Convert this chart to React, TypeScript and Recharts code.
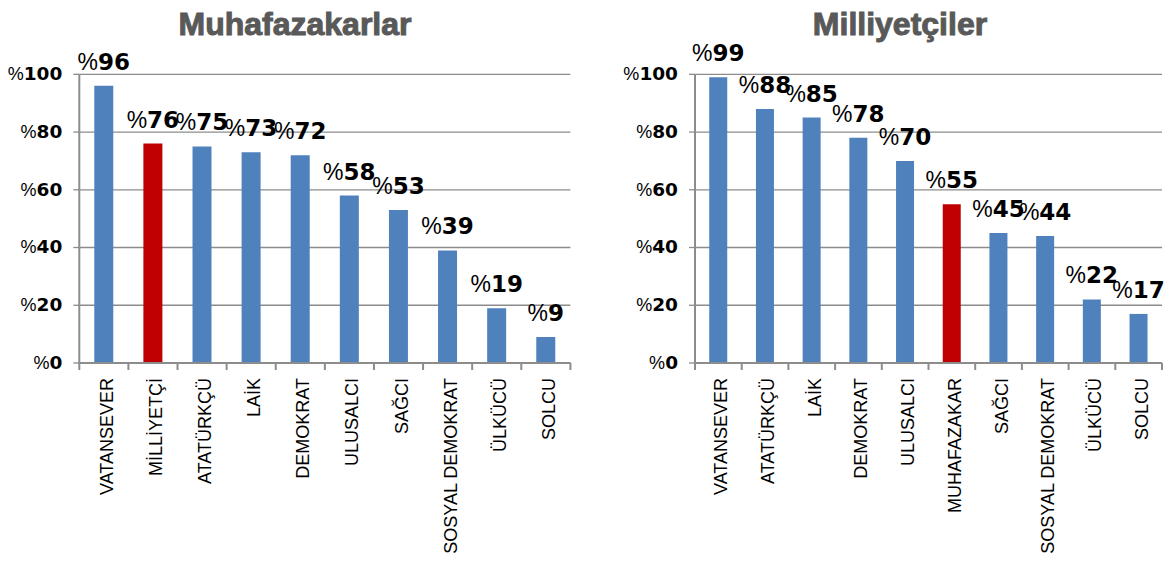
import React from 'react';
import { BarChart, Bar, XAxis, YAxis, CartesianGrid, Cell, LabelList } from 'recharts';

const leftTitle = 'Muhafazakarlar';
const leftCategories = ['VATANSEVER', 'MİLLİYETÇİ', 'ATATÜRKÇÜ', 'LAİK', 'DEMOKRAT', 'ULUSALCI', 'SAĞCI', 'SOSYAL DEMOKRAT', 'ÜLKÜCÜ', 'SOLCU'];
const leftValues = [96, 76, 75, 73, 72, 58, 53, 39, 19, 9];
const leftHighlight = 'MİLLİYETÇİ';

const rightTitle = 'Milliyetçiler';
const rightCategories = ['VATANSEVER', 'ATATÜRKÇÜ', 'LAİK', 'DEMOKRAT', 'ULUSALCI', 'MUHAFAZAKAR', 'SAĞCI', 'SOSYAL DEMOKRAT', 'ÜLKÜCÜ', 'SOLCU'];
const rightValues = [99, 88, 85, 78, 70, 55, 45, 44, 22, 17];
const rightHighlight = 'MUHAFAZAKAR';

const yTicks = [0, 20, 40, 60, 80, 100];

const BLUE = '#4F81BD';
const RED = '#C00000';
const GRID = '#8c8c8c';

const DIGIT_FONT = '"DejaVu Sans", "Liberation Sans", Arial, sans-serif';
const PCT_FONT = '"Liberation Sans", Arial, sans-serif';

function YTick(props: any) {
  const { x, y, payload } = props;
  return (
    <text x={x} y={y} textAnchor="end" dy="0.36em" fill="#000">
      <tspan fontFamily={PCT_FONT} fontSize={18}>%</tspan>
      <tspan fontFamily={DIGIT_FONT} fontWeight="bold" fontSize={18.5}>{payload.value}</tspan>
    </text>
  );
}

function XTick(props: any) {
  const { x, y, payload, index, width, visibleTicksCount } = props;
  const n = visibleTicksCount || 10;
  const band = width ? width / n : 49;
  const lx = x - band / 2;
  return (
    <g>
      <line x1={lx} y1={y} x2={lx} y2={y + 7} stroke={GRID} strokeWidth={2} />
      {index === n - 1 && <line x1={x + band / 2} y1={y} x2={x + band / 2} y2={y + 7} stroke={GRID} strokeWidth={2} />}
      <text
        x={0}
        y={0}
        transform={`translate(${x + 9}, ${y + 15}) rotate(-90)`}
        textAnchor="end"
        fontFamily={PCT_FONT}
        fontSize={18}
        fill="#000"
      >
        {payload.value}
      </text>
    </g>
  );
}

function ValueLabel(props: any) {
  const { x, y, width, value } = props;
  return (
    <text x={x + width / 2} y={y - 16} textAnchor="middle" fill="#000">
      <tspan fontFamily={PCT_FONT} fontSize={23}>%</tspan>
      <tspan fontFamily={DIGIT_FONT} fontWeight="bold" fontSize={23}>{value}</tspan>
    </text>
  );
}

function Panel(props: {
  title: string;
  categories: string[];
  values: number[];
  highlight: string;
  left: number;
  width: number;
  marginLeft: number;
  marginRight: number;
  titleCenter: number;
}) {
  const data = props.categories.map((c, i) => ({ name: c, value: props.values[i] }));
  return (
    <div style={{ position: 'absolute', left: props.left, top: 0, width: props.width, height: 561 }}>
      <div
        style={{
          position: 'absolute',
          left: props.titleCenter - 200,
          width: 400,
          top: 8,
          textAlign: 'center',
          fontFamily: PCT_FONT,
          fontWeight: 'bold',
          fontSize: 32,
          lineHeight: '32px',
          color: '#595959',
          WebkitTextStroke: '1px #595959',
        }}
      >
        {props.title}
      </div>
      <BarChart
        width={props.width}
        height={561}
        data={data}
        margin={{ top: 74.3, right: props.marginRight, bottom: 8, left: props.marginLeft }}
        barCategoryGap="30.5%"
      >
        <CartesianGrid vertical={false} stroke={GRID} strokeWidth={1.3} />
        <XAxis
          dataKey="name"
          height={190}
          interval={0}
          tickSize={0}
          tickMargin={0}
          tickLine={false}
          axisLine={{ stroke: GRID, strokeWidth: 2 }}
          tick={<XTick />}
        />
        <YAxis
          width={60}
          domain={[0, 100]}
          ticks={yTicks}
          interval={0}
          tickSize={6}
          tickMargin={11}
          tickLine={{ stroke: GRID, strokeWidth: 1.3 }}
          axisLine={{ stroke: GRID, strokeWidth: 2 }}
          tick={<YTick />}
        />
        <Bar dataKey="value" isAnimationActive={false}>
          {data.map((d) => (
            <Cell key={d.name} fill={d.name === props.highlight ? RED : BLUE} />
          ))}
          <LabelList dataKey="value" content={<ValueLabel />} />
        </Bar>
      </BarChart>
    </div>
  );
}

export default function App() {
  return (
    <div style={{ position: 'absolute', left: 0, top: 0, width: 1166, height: 561, background: '#fff' }}>
      <Panel
        title={leftTitle}
        categories={leftCategories}
        values={leftValues}
        highlight={leftHighlight}
        left={0}
        width={600}
        marginLeft={19.3}
        marginRight={29.6}
        titleCenter={295}
      />
      <Panel
        title={rightTitle}
        categories={rightCategories}
        values={rightValues}
        highlight={rightHighlight}
        left={600}
        width={566}
        marginLeft={35}
        marginRight={4}
        titleCenter={300}
      />
    </div>
  );
}
